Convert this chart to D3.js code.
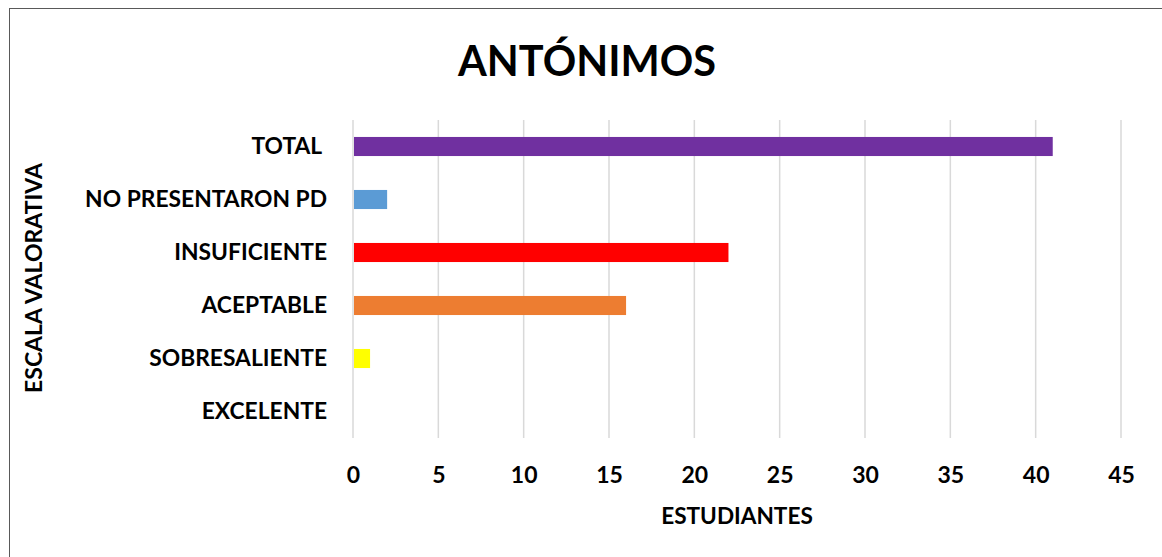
<!DOCTYPE html>
<html lang="es">
<head>
    <meta charset="UTF-8">
    <title>ANTÓNIMOS</title>
    <script src="https://d3js.org/d3.v7.min.js"></script>
    <style>
        body {
            margin: 0;
            background: #fff;
            font-family: Lato, "Open Sans", Arial, sans-serif;
        }
        text {
            font-weight: bold;
            fill: #000;
        }
    </style>
</head>
<body>
    <div id="chart"></div>

    <script>
        // data, top to bottom as drawn
        const categories = ["TOTAL ", "NO PRESENTARON PD", "INSUFICIENTE", "ACEPTABLE", "SOBRESALIENTE", "EXCELENTE"];
        const values = [41, 2, 22, 16, 1, 0];
        const barColors = ["#7030A0", "#5B9BD5", "#FF0000", "#ED7D31", "#FFFF00", "#70AD47"];
        const xTicks = [0, 5, 10, 15, 20, 25, 30, 35, 40, 45];

        const width = 1162;
        const height = 557;
        const plot = { left: 353, right: 1121, top: 120, bottom: 438 };

        const svg = d3.select("#chart")
            .append("svg")
            .attr("width", width)
            .attr("height", height);

        // chart border
        svg.append("rect")
            .attr("x", 9.5)
            .attr("y", 8.5)
            .attr("width", width + 10)
            .attr("height", height + 10)
            .attr("fill", "#fff")
            .attr("stroke", "#595959")
            .attr("stroke-width", 1);

        const x = d3.scaleLinear()
            .domain([0, 45])
            .range([plot.left, plot.right]);

        const y = d3.scaleBand()
            .domain(categories)
            .range([plot.top, plot.bottom])
            .paddingInner(0.64)
            .paddingOuter(0.32);

        // gridlines
        svg.append("g")
            .selectAll("line")
            .data(xTicks)
            .enter()
            .append("line")
            .attr("x1", d => x(d))
            .attr("x2", d => x(d))
            .attr("y1", plot.top)
            .attr("y2", plot.bottom)
            .attr("stroke", "#d9d9d9")
            .attr("stroke-width", 1.5);

        // bars
        svg.append("g")
            .selectAll("rect")
            .data(values)
            .enter()
            .append("rect")
            .attr("x", x(0) + 1)
            .attr("y", (d, i) => y(categories[i]))
            .attr("width", d => Math.max(0, x(d) - x(0) - 1))
            .attr("height", y.bandwidth())
            .attr("fill", (d, i) => barColors[i]);

        // x axis tick labels
        const xAxis = d3.axisBottom(x).tickValues(xTicks).tickSize(0).tickPadding(0);
        const gx = svg.append("g")
            .attr("transform", `translate(0, 483)`)
            .call(xAxis);
        gx.select(".domain").remove();
        gx.selectAll("text")
            .attr("dy", 0)
            .style("font-size", "23px")
            .style("font-family", "Lato, sans-serif")
            .style("font-weight", "bold")
            .attr("fill", "#000");

        // y axis labels (keep the trailing space of "TOTAL ")
        const yAxis = d3.axisLeft(y).tickSize(0).tickPadding(0);
        const gy = svg.append("g")
            .attr("transform", `translate(327, 0)`)
            .call(yAxis);
        gy.select(".domain").remove();
        gy.selectAll("text")
            .attr("dy", "0.35em")
            .style("white-space", "pre")
            .style("font-size", "22.8px")
            .style("font-family", "Lato, sans-serif")
            .style("font-weight", "bold")
            .attr("fill", "#000");

        // title
        svg.append("text")
            .attr("x", 587)
            .attr("y", 76)
            .attr("text-anchor", "middle")
            .style("font-size", "41.5px")
            .text("ANTÓNIMOS");

        // axis titles
        svg.append("text")
            .attr("x", 737)
            .attr("y", 524)
            .attr("text-anchor", "middle")
            .style("font-size", "22.6px")
            .text("ESTUDIANTES");

        svg.append("text")
            .attr("transform", "translate(42, 278) rotate(-90)")
            .attr("text-anchor", "middle")
            .style("font-size", "23px")
            .text("ESCALA VALORATIVA");
    </script>
</body>
</html>
